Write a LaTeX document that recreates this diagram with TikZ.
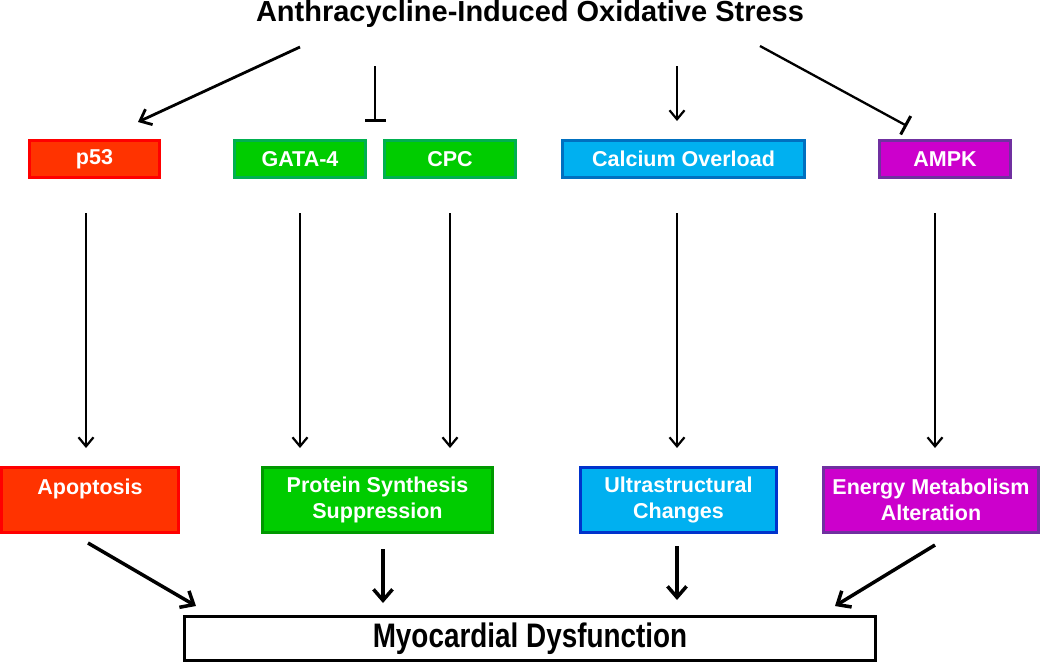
\documentclass[tikz,border=0pt]{standalone}
\usepackage{fontspec}
\setmainfont{Liberation Sans}
\newfontfamily\narrowfont[FakeStretch=0.82]{Liberation Sans}
\usetikzlibrary{arrows.meta}
\definecolor{redfill}{HTML}{FF3300}
\definecolor{redline}{HTML}{FF0000}
\definecolor{greenfill}{HTML}{00CC00}
\definecolor{greenline}{HTML}{00B050}
\definecolor{greenline2}{HTML}{009900}
\definecolor{cyanfill}{HTML}{00B0F0}
\definecolor{cyanline}{HTML}{0070C0}
\definecolor{blueline}{HTML}{0033CC}
\definecolor{magfill}{HTML}{CC00CC}
\definecolor{magline}{HTML}{7030A0}
\begin{document}
\begin{tikzpicture}[x=1pt,y=-1pt,
  box/.style={draw, line width=3pt, text=white, font=\fontsize{21.5}{26}\selectfont\bfseries, align=center, inner sep=0pt},
  topbox/.style={box, minimum height=37pt},
  botbox/.style={box, minimum height=65pt},
  redbox/.style={fill=redfill, draw=redline},
  greenbox/.style={fill=greenfill, draw=greenline},
  greenbox2/.style={fill=greenfill, draw=greenline2},
  cyanbox/.style={fill=cyanfill, draw=cyanline},
  bluebox/.style={fill=cyanfill, draw=blueline},
  magbox/.style={fill=magfill, draw=magline},
  arr/.style={line width=2.2pt, -{Straight Barb[length=9pt,width=15pt]}},
  diagarr/.style={line width=2.8pt, -{Straight Barb[length=10pt,width=17pt]}},
  inh/.style={line width=2.3pt, -{Bar[width=21pt,line width=3pt]}},
  thickarr/.style={line width=3.5pt, -{Straight Barb[length=11pt,width=19pt]}}
]
\useasboundingbox (0,0) rectangle (1050,664);

\node[font=\fontsize{29}{32}\selectfont\bfseries] (title) at (530,14) {Anthracycline-Induced Oxidative Stress};

% top row
\node[topbox, redbox, minimum width=130pt] (p53) at (94.5,159) {p53};
\node[topbox, greenbox, minimum width=131pt] (gata) at (300,159) {GATA-4};
\node[topbox, greenbox, minimum width=131pt] (cpc) at (450,159) {CPC};
\node[topbox, cyanbox, minimum width=242pt] (calc) at (683.5,159) {Calcium Overload};
\node[topbox, magbox, minimum width=131pt] (ampk) at (945,159) {AMPK};

% bottom row
\node[botbox, redbox, minimum width=177pt] (apop) at (90,500) {Apoptosis\\\mbox{}};
\node[botbox, greenbox2, minimum width=230pt] (prot) at (377.5,500) {Protein Synthesis\\Suppression};
\node[botbox, bluebox, minimum width=196pt] (ultra) at (678.5,500) {Ultrastructural\\Changes};
\node[botbox, magbox, minimum width=215pt] (energy) at (931,500) {Energy Metabolism\\Alteration};

\node[draw, line width=3pt, fill=white, minimum width=691pt, minimum height=44pt, inner sep=0pt,
      font=\fontsize{34}{36}\narrowfont\bfseries] (myo) at (530,638.5) {Myocardial Dysfunction};

% arrow end points
\coordinate (a1s) at (300,47);   \coordinate (a1e) at (138,122);
\coordinate (i1s) at (375,66);   \coordinate (i1e) at (375,122);
\coordinate (a2s) at (677,66);   \coordinate (a2e) at (677,121);
\coordinate (i2s) at (760,46);   \coordinate (i2e) at (907,126);

\coordinate (v1s) at (86,213);   \coordinate (v1e) at (86,448);
\coordinate (v2s) at (300,213);  \coordinate (v2e) at (300,448);
\coordinate (v3s) at (450,213);  \coordinate (v3e) at (450,448);
\coordinate (v4s) at (677,213);  \coordinate (v4e) at (677,448);
\coordinate (v5s) at (935,213);  \coordinate (v5e) at (935,448);

\coordinate (b1s) at (88,543);   \coordinate (b1e) at (196,606);
\coordinate (b2s) at (383,549);  \coordinate (b2e) at (383,603);
\coordinate (b3s) at (677,546);  \coordinate (b3e) at (677,600);
\coordinate (b4s) at (935,545);  \coordinate (b4e) at (835,606);

\draw[diagarr] (a1s) -- (a1e);
\draw[inh] (i1s) -- (i1e);
\draw[arr] (a2s) -- (a2e);
\draw[inh] (i2s) -- (i2e);

\draw[arr] (v1s) -- (v1e);
\draw[arr] (v2s) -- (v2e);
\draw[arr] (v3s) -- (v3e);
\draw[arr] (v4s) -- (v4e);
\draw[arr] (v5s) -- (v5e);

\draw[thickarr] (b1s) -- (b1e);
\draw[thickarr] (b2s) -- (b2e);
\draw[thickarr] (b3s) -- (b3e);
\draw[thickarr] (b4s) -- (b4e);
\end{tikzpicture}
\end{document}
